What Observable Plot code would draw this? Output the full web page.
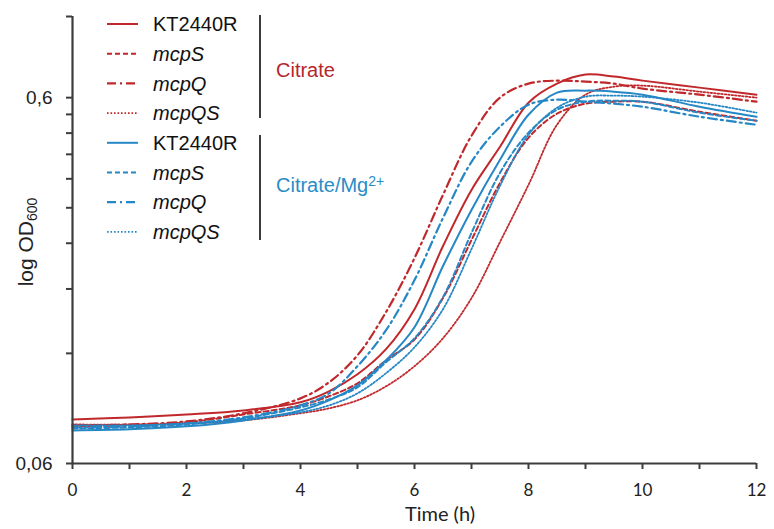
<!DOCTYPE html>
<html><head><meta charset="utf-8">
<script src="https://cdn.jsdelivr.net/npm/d3@7"></script>
<script src="https://cdn.jsdelivr.net/npm/@observablehq/plot@0.6"></script>
<style>
body{margin:0;background:#fff}
#chart{width:774px;height:529px}
</style>
</head><body><div id="chart"></div>
<script>
// ---- data (OD600) ----
const times = [0,1,2,3,4,4.5,5,5.5,6,6.5,7,7.5,8,8.5,9,9.5,10,11,12];
const strains = ["KT2440R","mcpS","mcpQ","mcpQS"];
const media = ["Citrate","Citrate/Mg2+"];

const citrateKT2440R = [0.0792,0.0802,0.0817,0.0838,0.0882,0.0945,0.1052,0.1232,0.1585,0.2358,0.3358,0.4404,0.5813,0.6554,0.6937,0.6850,0.6679,0.6391,0.6115];
const citrateMcpS    = [0.0758,0.0763,0.0777,0.0817,0.0865,0.0916,0.0994,0.1149,0.1310,0.1700,0.2449,0.3510,0.4661,0.5423,0.5776,0.5850,0.5850,0.5492,0.5189];
const citrateMcpQ    = [0.0763,0.0767,0.0782,0.0823,0.0904,0.1000,0.1186,0.1556,0.2186,0.3254,0.4721,0.6000,0.6554,0.6679,0.6637,0.6554,0.6351,0.6115,0.5850];
const citrateMcpQS   = [0.0767,0.0767,0.0772,0.0787,0.0823,0.0849,0.0893,0.0975,0.1107,0.1320,0.1699,0.2419,0.3466,0.5060,0.6115,0.6431,0.6472,0.6231,0.6000];
const mgKT2440R      = [0.0739,0.0744,0.0758,0.0787,0.0838,0.0893,0.0981,0.1149,0.1415,0.2079,0.2960,0.4058,0.5389,0.6192,0.6271,0.6231,0.6115,0.5668,0.5322];
const mgMcpS         = [0.0748,0.0753,0.0767,0.0797,0.0854,0.0898,0.0969,0.1135,0.1320,0.1710,0.2560,0.3739,0.4811,0.5562,0.5850,0.5887,0.5850,0.5458,0.5189];
const mgMcpQ         = [0.0753,0.0758,0.0772,0.0802,0.0865,0.0933,0.1107,0.1388,0.1903,0.2814,0.4006,0.4997,0.5740,0.5925,0.5850,0.5776,0.5668,0.5322,0.5060];
const mgMcpQS        = [0.0763,0.0763,0.0772,0.0792,0.0828,0.0865,0.0933,0.1059,0.1247,0.1585,0.2314,0.3444,0.4751,0.5632,0.6038,0.6076,0.6038,0.5813,0.5458];

const xTicks = [0,1,2,3,4,5,6,7,8,9,10,11,12];
const xTickLabels = ["0","","2","","4","","6","","8","","10","","12"];
const yTicks = [0.06, 0.6];
const yTickLabels = ["0,06","0,6"];
const yMinorTicks = [0.12,0.18,0.24,0.30,0.36,0.42,0.48,0.54,1.0];

// ---- styles ----
const RED = "#c0282c", BLUE = "#2587c5";
const mediumColor = {"Citrate": RED, "Citrate/Mg2+": BLUE};
const strainDash = {"KT2440R": null, "mcpS": "5,3", "mcpQ": "9,4,2,4", "mcpQS": "1.6,1.9"};
const strainWidth = {"KT2440R": 2, "mcpS": 2, "mcpQ": 2.2, "mcpQS": 1.8};

const seriesList = [
  {medium: media[0], strain: strains[0], values: citrateKT2440R},
  {medium: media[0], strain: strains[1], values: citrateMcpS},
  {medium: media[0], strain: strains[2], values: citrateMcpQ},
  {medium: media[0], strain: strains[3], values: citrateMcpQS},
  {medium: media[1], strain: strains[0], values: mgKT2440R},
  {medium: media[1], strain: strains[1], values: mgMcpS},
  {medium: media[1], strain: strains[2], values: mgMcpQ},
  {medium: media[1], strain: strains[3], values: mgMcpQS}
];

const lineMarks = seriesList.map(s => {
  const rows = times.map((t, i) => ({t, od: s.values[i]}));
  return Plot.line(rows, {
    x: "t", y: "od",
    stroke: mediumColor[s.medium],
    strokeWidth: strainWidth[s.strain],
    strokeDasharray: strainDash[s.strain] || undefined,
    curve: "catmull-rom"
  });
});

const AX = "#3c3c3c";
const svg = Plot.plot({
  width: 774, height: 529,
  marginLeft: 72, marginRight: 18, marginTop: 16, marginBottom: 66,
  style: {fontFamily: "'Liberation Sans', Arial, sans-serif", background: "#fff", color: "#222"},
  x: {domain: [0, 12]},
  y: {type: "log", domain: [0.06, 1.0]},
  marks: [
    ...lineMarks,
    Plot.axisX({ticks: xTicks, tickFormat: d => xTickLabels[xTicks.indexOf(d)], tickSize: 6, tickPadding: 14,
      fontSize: 17, fontFamily: "Lato, 'Open Sans', sans-serif", stroke: AX, strokeWidth: 2, fill: "#222", label: null}),
    Plot.axisY({ticks: yTicks, tickFormat: d => yTickLabels[yTicks.indexOf(d)], tickSize: 6, tickPadding: 14,
      fontSize: 19, stroke: AX, strokeWidth: 2, fill: "#222", label: null}),
    Plot.axisY({ticks: yMinorTicks, tickFormat: () => "", tickSize: 6, stroke: AX, strokeWidth: 2, label: null}),
    Plot.ruleX([0], {stroke: AX, strokeWidth: 2.2}),
    Plot.ruleY([0.06], {stroke: AX, strokeWidth: 2.2})
  ]
});

const root = d3.select(svg);

// axis titles
const yt = root.append("text")
  .attr("transform", "translate(33,242) rotate(-90)")
  .attr("text-anchor", "middle")
  .attr("fill", "#222")
  .style("font-family", "'Liberation Sans', Arial, sans-serif")
  .style("font-size", "21px");
yt.append("tspan").text("log OD");
yt.append("tspan").attr("dy", "0.3em").style("font-size", "14px").text("600");

root.append("text")
  .attr("x", 440).attr("y", 521)
  .attr("text-anchor", "middle")
  .attr("fill", "#222")
  .style("font-family", "Lato, 'Open Sans', sans-serif")
  .style("font-size", "20px")
  .text("Time (h)");

// legend
const lg = root.append("g")
  .attr("text-anchor", "start")
  .style("font-family", "'Liberation Sans', Arial, sans-serif").style("font-size", "20px");
seriesList.forEach((s, i) => {
  const y = 24 + i * 29.7;
  lg.append("line")
    .attr("x1", 107).attr("x2", 138).attr("y1", y).attr("y2", y)
    .attr("stroke", mediumColor[s.medium])
    .attr("stroke-width", strainWidth[s.strain])
    .attr("stroke-dasharray", strainDash[s.strain]);
  lg.append("text")
    .attr("x", 153).attr("y", y).attr("dy", "0.36em")
    .attr("text-anchor", "start")
    .attr("fill", "#111")
    .style("font-style", s.strain === "KT2440R" ? "normal" : "italic")
    .text(s.strain);
});
// group brackets
[[15, 118], [135, 240]].forEach(([a, b]) => {
  lg.append("line").attr("x1", 260).attr("x2", 260).attr("y1", a).attr("y2", b)
    .attr("stroke", AX).attr("stroke-width", 2);
});
lg.append("text").attr("x", 276).attr("y", 70).attr("dy", "0.36em").attr("text-anchor", "start")
  .attr("fill", "#b5262b").text("Citrate");
const mg = lg.append("text").attr("x", 276).attr("y", 185).attr("dy", "0.36em").attr("text-anchor", "start")
  .attr("fill", "#2a8cc6");
mg.append("tspan").text("Citrate/Mg");
mg.append("tspan").attr("dy", "-0.45em").style("font-size", "14px").text("2+");

document.getElementById("chart").appendChild(svg);
</script>
</body></html>
